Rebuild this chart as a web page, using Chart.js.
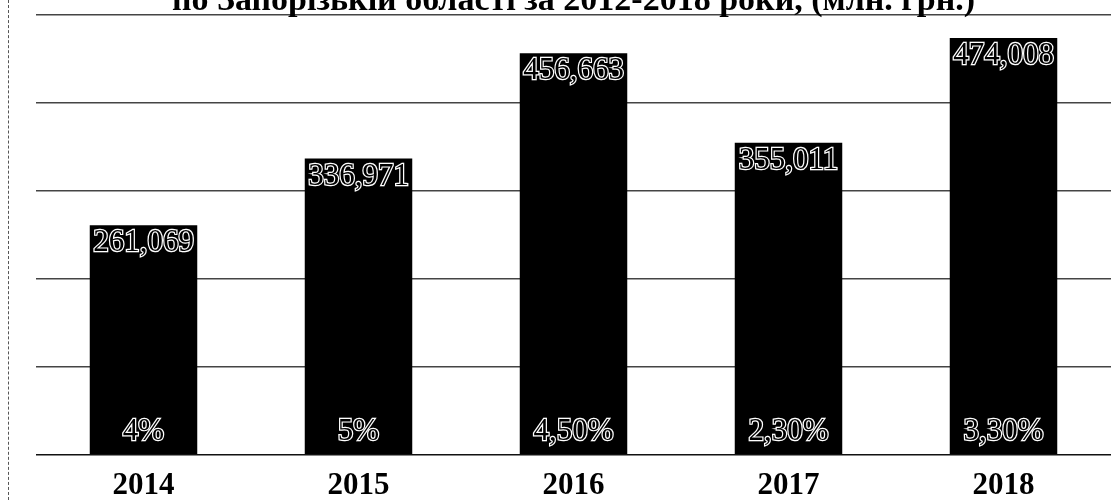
<!DOCTYPE html>
<html>
<head>
<meta charset="utf-8">
<script src="https://cdn.jsdelivr.net/npm/chart.js@4.4.1/dist/chart.umd.min.js"></script>
<style>
	html, body { margin: 0; padding: 0; background: #fff; overflow: hidden; }
	#wrap { position: relative; width: 1111px; height: 500px; overflow: hidden; }
	#chart { position: absolute; left: 0; top: -40px; }
	#scanEdge { position: absolute; left: 8px; top: 0; height: 500px; border-left: 1px dashed #555; }
</style>
</head>
<body>
<div id="wrap">
	<canvas id="chart" width="1111" height="565"></canvas>
	<div id="scanEdge"></div>
</div>
<script>
var titleText = "по Запорізькій області за 2012-2018 роки, (млн. грн.)";
var years = ["2014", "2015", "2016", "2017", "2018"];
var amounts = [261.069, 336.971, 456.663, 355.011, 474.008];
var shares = ["4%", "5%", "4,50%", "2,30%", "3,30%"];
var yTicks = [0, 100, 200, 300, 400, 500];

//outlined text like the original scan: white edge, dark inside
function outlineText(ctx, text, x, y) {
	ctx.lineWidth = 2.4;
	ctx.strokeStyle = "#fff";
	ctx.strokeText(text, x, y);
	ctx.fillStyle = "#000";
	ctx.fillText(text, x, y);
}

var barLabels = {
	id: "barLabels",
	afterDatasetsDraw: function(chart) {
		var ctx = chart.ctx;
		var meta = chart.getDatasetMeta(0);
		var bottom = chart.chartArea.bottom;
		ctx.save();
		ctx.font = "31px 'Liberation Serif'";
		ctx.textAlign = "center";
		ctx.textBaseline = "middle";
		for (var i = 0; i < meta.data.length; i++) {
			var bar = meta.data[i];
			var txt = amounts[i].toFixed(3).replace(".", ",");
			outlineText(ctx, txt, bar.x, bar.y + 18);
			outlineText(ctx, shares[i], bar.x, bottom - 23);
		}
		ctx.restore();
	}
};

var ctx = document.getElementById("chart").getContext("2d");
var myChart = new Chart(ctx, {
	type: "bar",
	data: {
		labels: years,
		datasets: [{
			data: amounts,
			backgroundColor: "#000",
			borderWidth: 0,
			categoryPercentage: 1,
			barPercentage: 0.5
		}]
	},
	options: {
		responsive: false,
		animation: false,
		layout: { padding: { left: 36, right: 0, top: 0, bottom: 7 } },
		plugins: {
			legend: { display: false },
			tooltip: { enabled: false },
			title: {
				display: true,
				text: titleText,
				color: "#000",
				font: { family: "'Liberation Serif'", size: 34, weight: "bold", lineHeight: 0.8 },
				padding: { top: 28, bottom: 0 }
			}
		},
		scales: {
			x: {
				grid: { display: false, drawTicks: false },
				border: { display: false },
				ticks: {
					color: "#000",
					padding: 13,
					font: { family: "'Liberation Serif'", size: 31, weight: "bold" }
				}
			},
			y: {
				min: yTicks[0],
				max: yTicks[yTicks.length - 1],
				afterBuildTicks: function(axis) {
					axis.ticks = yTicks.map(function(v) { return { value: v }; });
				},
				border: { display: false },
				grid: {
					color: function(c) { return c.tick.value === 0 ? "#111" : "#444"; },
					lineWidth: 1.5,
					drawTicks: false
				},
				ticks: { display: false }
			}
		}
	},
	plugins: [barLabels]
});
</script>
</body>
</html>
